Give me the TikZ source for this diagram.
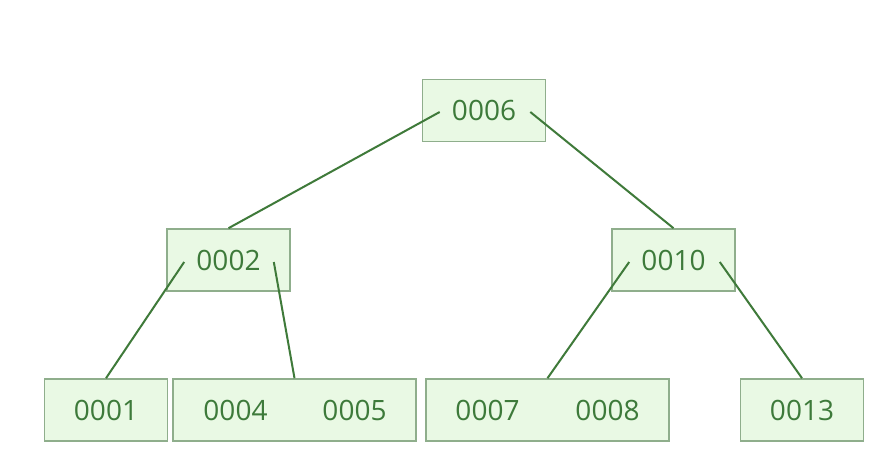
\documentclass[tikz,border=0pt]{standalone}
\usepackage{fontspec}
\setmainfont{Open Sans}
\usetikzlibrary{calc}
\definecolor{boxfill}{HTML}{E9F9E4}
\definecolor{boxline}{HTML}{8FAE8C}
\definecolor{edge}{HTML}{3F7A3A}
\definecolor{txt}{HTML}{3D7A3A}
\begin{document}
\begin{tikzpicture}[x=1pt,y=-1pt,
  keybox/.style={draw=boxline,fill=boxfill,line width=1.6pt,minimum height=62pt,inner sep=0pt},
  onebox/.style={keybox,minimum width=123pt},
  twobox/.style={keybox,minimum width=243pt},
  keytext/.style={text=txt,font=\fontsize{28}{32}\selectfont,inner sep=0pt},
  link/.style={draw=edge,line width=2pt}]
\useasboundingbox (0,0) rectangle (896,460);
\fill[white] (0,0) rectangle (896,460);
% boxes
\node[onebox] (n6) at (484,110.5) {};
\node[onebox] (n2) at (228.5,260) {};
\node[onebox] (n10) at (673.5,260) {};
\node[onebox] (n1) at (106,410) {};
\node[twobox] (n45) at (294.5,410) {};
\node[twobox] (n78) at (547.5,410) {};
\node[onebox] (n13) at (802,410) {};
% texts
\node[keytext] (t6) at (n6) {0006};
\node[keytext] (t2) at (n2) {0002};
\node[keytext] (t10) at (n10) {0010};
\node[keytext] (t1) at (n1) {0001};
\node[keytext] (t4) at ($(n45.center)+(-59,0)$) {0004};
\node[keytext] (t5) at ($(n45.center)+(60,0)$) {0005};
\node[keytext] (t7) at ($(n78.center)+(-60,0)$) {0007};
\node[keytext] (t8) at ($(n78.center)+(60,0)$) {0008};
\node[keytext] (t13) at (n13) {0013};
% links
\draw[link] ($(n6.west)+(18,1.5)$) -- (n2.north);
\draw[link] ($(n6.east)+(-16,1.5)$) -- (n10.north);
\draw[link] ($(n2.west)+(18,2)$) -- (n1.north);
\draw[link] ($(n2.east)+(-17,2)$) -- (n45.north);
\draw[link] ($(n10.west)+(18,2)$) -- (n78.north);
\draw[link] ($(n10.east)+(-16,2)$) -- (n13.north);
\end{tikzpicture}
\end{document}
